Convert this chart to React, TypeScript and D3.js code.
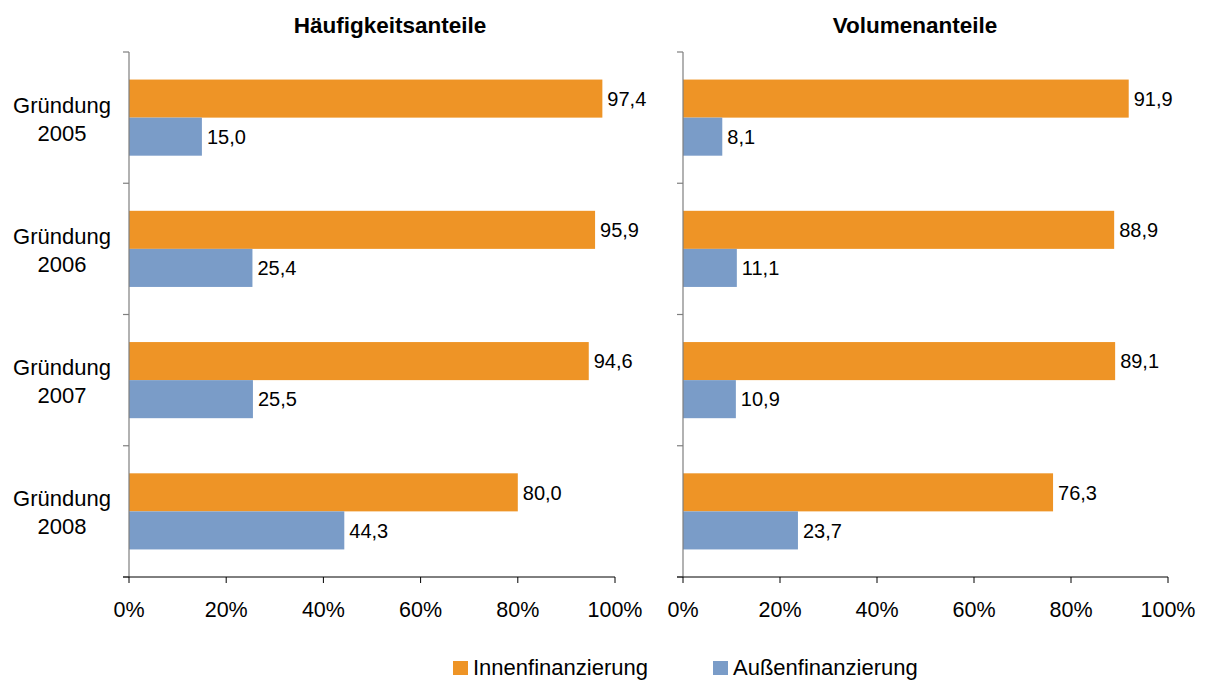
import React from "react";
import * as d3 from "d3";

const categories = ["2005", "2006", "2007", "2008"];
const categoryPrefix = "Gründung";
const seriesNames = ["Innenfinanzierung", "Außenfinanzierung"];
const haeufigInnen = [97.4, 95.9, 94.6, 80.0];
const haeufigAussen = [15.0, 25.4, 25.5, 44.3];
const volumenInnen = [91.9, 88.9, 89.1, 76.3];
const volumenAussen = [8.1, 11.1, 10.9, 23.7];
const panelTitles = ["Häufigkeitsanteile", "Volumenanteile"];
const xTicks = [0, 20, 40, 60, 80, 100];

const COLORS = ["#EE9426", "#7A9CC8"];
const FONT = "Liberation Sans, Arial, sans-serif";

function Panel({ x0, x1, titleX, title, innen, aussen, showCats }: any) {
  const top = 52;
  const bottom = 577;
  const x = d3.scaleLinear().domain([0, 100]).range([x0, x1]);
  const y = d3.scaleBand().domain(categories).range([top, bottom]).paddingInner(0.42).paddingOuter(0.21);
  const inner = d3.scaleBand().domain(["0", "1"]).range([0, y.bandwidth()]);
  const series = [innen, aussen];
  const catEdges = d3.range(categories.length + 1).map((i) => top + (i * (bottom - top)) / categories.length);
  return (
    <g>
      <text x={titleX} y={33} textAnchor="middle" fontFamily={FONT} fontWeight="bold" fontSize={22.5} fill="#000">
        {title}
      </text>
      {categories.map((c, ci) =>
        series.map((s, si) => {
          const yy = (y(c) as number) + (inner(String(si)) as number);
          const v = s[ci];
          return (
            <g key={c + si}>
              <rect x={x(0)} y={yy} width={x(v) - x(0)} height={inner.bandwidth()} fill={COLORS[si]} />
              <text x={x(v) + 5} y={yy + inner.bandwidth() / 2} dy="0.36em" fontFamily={FONT} fontSize={20} fill="#000">
                {v.toFixed(1).replace(".", ",")}
              </text>
            </g>
          );
        })
      )}
      <line x1={x0} x2={x0} y1={top} y2={bottom} stroke="#7f7f7f" strokeWidth={1.2} />
      {catEdges.map((e, i) => (
        <line key={i} x1={x0 - 6} x2={x0} y1={e} y2={e} stroke="#7f7f7f" strokeWidth={1.2} />
      ))}
      <line x1={x0 - 6} x2={x1} y1={bottom} y2={bottom} stroke="#000" strokeWidth={1} />
      {xTicks.map((t) => (
        <g key={t}>
          <line x1={x(t)} x2={x(t)} y1={bottom} y2={bottom + 6} stroke="#000" strokeWidth={1} />
          <text x={x(t)} y={617} textAnchor="middle" fontFamily={FONT} fontSize={21.5} fill="#000">
            {t + "%"}
          </text>
        </g>
      ))}
      {showCats &&
        categories.map((c) => {
          const cy = (y(c) as number) + y.bandwidth() / 2;
          return (
            <text key={c} x={62} textAnchor="middle" fontFamily={FONT} fontSize={22} fill="#000">
              <tspan x={62} y={cy - 5}>{categoryPrefix}</tspan>
              <tspan x={62} y={cy + 23}>{c}</tspan>
            </text>
          );
        })}
    </g>
  );
}

export default function App() {
  const legendX = [453, 713];
  return (
    <svg width={1205} height={680} style={{ position: "absolute", left: 0, top: 0, background: "#fff" }}>
      <rect width={1205} height={680} fill="#fff" />
      <Panel x0={129} x1={615} titleX={390} title={panelTitles[0]} innen={haeufigInnen} aussen={haeufigAussen} showCats={true} />
      <Panel x0={683} x1={1168} titleX={915} title={panelTitles[1]} innen={volumenInnen} aussen={volumenAussen} showCats={false} />
      {seriesNames.map((n, i) => (
        <g key={n}>
          <rect x={legendX[i]} y={661} width={15} height={14} fill={COLORS[i]} />
          <text x={legendX[i] + 20} y={675} fontFamily={FONT} fontSize={22} fill="#000">
            {n}
          </text>
        </g>
      ))}
    </svg>
  );
}
